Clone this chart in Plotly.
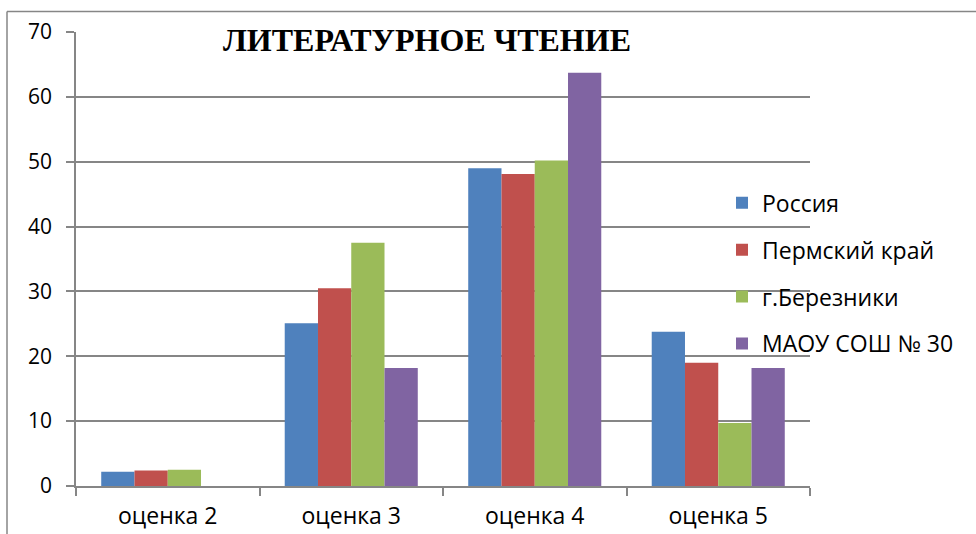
import plotly.graph_objects as go

categories = ["оценка 2", "оценка 3", "оценка 4", "оценка 5"]
series_names = ["Россия", "Пермский край", "г.Березники", "МАОУ СОШ № 30"]
russia = [2.2, 25.1, 49.0, 23.8]
perm = [2.4, 30.5, 48.1, 19.0]
berezniki = [2.5, 37.5, 50.2, 9.7]
school = [0, 18.2, 63.7, 18.2]
y_ticks = [0, 10, 20, 30, 40, 50, 60, 70]

colors = ["#4F81BD", "#C0504D", "#9BBB59", "#8064A2"]
values = [russia, perm, berezniki, school]

fig = go.Figure()
for i, (name, vals) in enumerate(zip(series_names, values)):
    fig.add_trace(go.Bar(
        x=categories, y=vals, name=name,
        marker=dict(color=colors[i], line=dict(width=0)),
        legendgroup=f"g{i}",
    ))

W, H = 976, 534
L, R, T, B = 76, 166, 31.5, 48
pw = W - L - R
ph = H - T - B

def px_x(x):
    return (x - L) / pw

def px_y(y):
    return (H - B - y) / ph

font_sans = "Open Sans, Noto Sans, sans-serif"

fig.update_layout(
    width=W, height=H,
    margin=dict(l=L, r=R, t=T, b=B, pad=0, autoexpand=False),
    paper_bgcolor="white", plot_bgcolor="white",
    barmode="group", bargap=0.275, bargroupgap=0,
    font=dict(family=font_sans, size=20, color="#000000"),
    title=dict(
        text="<b>ЛИТЕРАТУРНОЕ ЧТЕНИЕ</b>",
        font=dict(family="Liberation Serif, Times New Roman, serif", size=32, color="#000000"),
        x=px_x(427), xref="paper", xanchor="center",
        y=1 - 40 / H, yref="container", yanchor="middle",
    ),
    xaxis=dict(
        showline=True, linecolor="#868686", linewidth=1.5,
        ticks="outside", tickson="boundaries", ticklen=8, tickcolor="#868686", tickwidth=1.5,
        tickfont=dict(family=font_sans, size=23, color="#000000"),
        showgrid=False, automargin=False,
        ticklabelstandoff=9,
    ),
    yaxis=dict(
        range=[0, 70], tickvals=y_ticks,
        showline=True, linecolor="#868686", linewidth=1.5,
        ticks="outside", ticklen=8, tickcolor="#868686", tickwidth=1.5,
        showgrid=True, gridcolor="#868686", gridwidth=1.5,
        tickfont=dict(family=font_sans, size=21, color="#000000"),
        zeroline=False, automargin=False,
        ticklabelstandoff=10,
    ),
    legend=dict(
        x=px_x(722), xanchor="left",
        y=px_y(181), yanchor="top",
        font=dict(family=font_sans, size=23, color="#000000"),
        tracegroupgap=14,
        bgcolor="rgba(0,0,0,0)",
        itemwidth=30,
    ),
    showlegend=True,
)

# partial outer chart frame (top and left edges)
fig.add_shape(type="line", xref="paper", yref="paper",
              x0=px_x(7), x1=px_x(980), y0=px_y(11), y1=px_y(11),
              line=dict(color="#868686", width=1.5))
fig.add_shape(type="line", xref="paper", yref="paper",
              x0=px_x(7), x1=px_x(7), y0=px_y(11), y1=px_y(540),
              line=dict(color="#868686", width=1.5))

fig.write_html(
    "out.html",
    config={"displayModeBar": False},
    post_script="document.body.style.margin='0';document.body.style.overflow='hidden';",
)
